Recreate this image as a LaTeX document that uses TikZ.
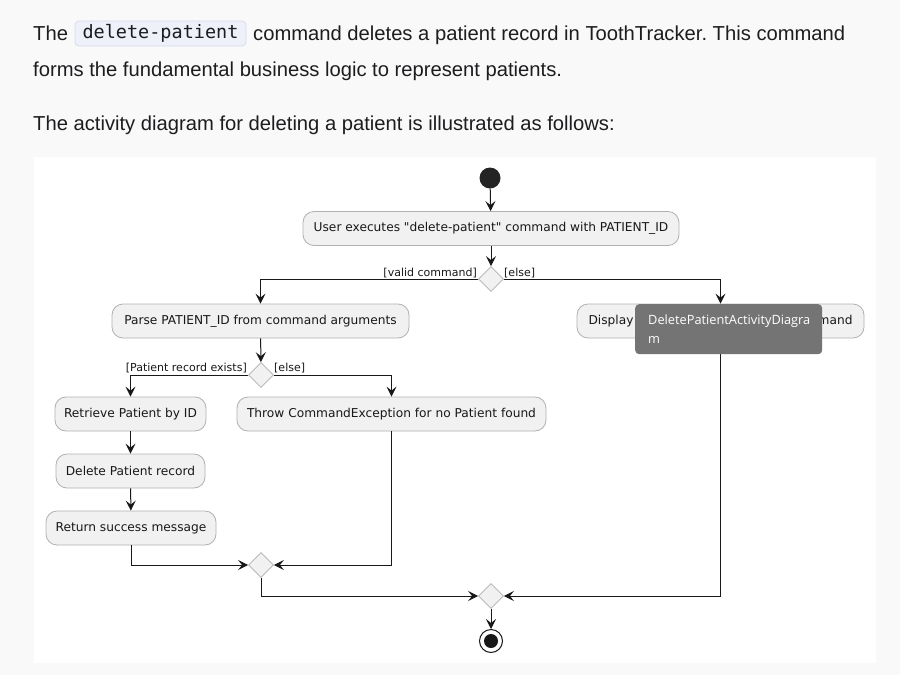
\documentclass[tikz,border=0pt]{standalone}
\usepackage{fontspec}
\setmainfont{Liberation Sans}
\newfontfamily\umlfont{DejaVu Sans}
\newfontfamily\tipfont{Open Sans}
\setmonofont{DejaVu Sans Mono}
\usetikzlibrary{arrows.meta,shapes.geometric}
\definecolor{pagebg}{HTML}{F9F9FA}
\definecolor{panelbg}{HTML}{FFFFFF}
\definecolor{boxfill}{HTML}{F1F1F1}
\definecolor{boxline}{HTML}{B0B0B0}
\definecolor{linec}{HTML}{181818}
\definecolor{codebg}{HTML}{EEF0FA}
\definecolor{codeline}{HTML}{D8DBEC}
\definecolor{tipgray}{HTML}{747474}
\definecolor{txt}{HTML}{1D1D1F}
\frenchspacing
\begin{document}
\begin{tikzpicture}[x=1pt,y=-1pt,
  act/.style={draw=boxline, fill=boxfill, rounded corners=11pt, line width=0.8pt,
    font=\umlfont\fontsize{12.2}{14}\selectfont, text=linec, minimum height=34pt, inner sep=0pt},
  dia/.style={diamond, draw=boxline, fill=boxfill, line width=0.8pt, minimum size=25pt, inner sep=0pt},
  lbl/.style={font=\umlfont\fontsize{11}{12}\selectfont, text=linec, inner sep=0pt},
  arr/.style={draw=linec, line width=1pt, -{Stealth[length=10pt,width=10pt,inset=4pt]}},
  head/.style={font=\fontsize{20.2}{22}\selectfont, text=txt, inner sep=0pt, anchor=base west}]
\fill[pagebg] (0,0) rectangle (900,675);
\useasboundingbox (0,0) rectangle (900,675);
\fill[panelbg] (34,157) rectangle (876,663);

% header text
\node[head] (t1a) at (33,40) {The};
\node[fill=codebg, draw=codeline, line width=0.8pt, rounded corners=4pt, minimum width=171pt, minimum height=25pt, inner sep=0pt, font=\ttfamily\fontsize{18.5}{20}\selectfont, text=txt] (code) at (160.5,33.5) {delete-patient};
\node[head] (t1b) at (253,40) {command deletes a patient record in ToothTracker. This command};
\node[head] (t2) at (33,76) {forms the fundamental business logic to represent patients.};
\node[head] (t3) at (33,130) {The activity diagram for deleting a patient is illustrated as follows:};

% diagram nodes
\node[circle, fill=linec!95, minimum size=21pt, inner sep=0pt] (start) at (490,178) {};
\node[act, minimum width=376pt] (user) at (491,228.5) {User executes "delete-patient" command with PATIENT\_ID};
\node[dia] (d1) at (491,279) {};
\node[lbl, anchor=base east] (lv) at (477,276) {[valid command]};
\node[lbl, anchor=base west] (le1) at (504,276) {[else]};
\node[act, minimum width=297pt] (parse) at (260.5,321) {Parse PATIENT\_ID from command arguments};
\node[act, minimum width=287pt] (disp) at (720.5,321) {\makebox[264pt]{Display\hfill mand}};
\node[dia] (d2) at (261,375) {};
\node[lbl, anchor=base east] (lp) at (247,371) {[Patient record exists]};
\node[lbl, anchor=base west] (le2) at (274,371) {[else]};
\node[act, minimum width=151pt] (retr) at (130.5,414) {Retrieve Patient by ID};
\node[act, minimum width=309pt] (throw) at (391.5,414) {Throw CommandException for no Patient found};
\node[act, minimum width=149pt] (del) at (130.5,471) {Delete Patient record};
\node[act, minimum width=170pt] (ret) at (131,528) {Return success message};
\node[dia] (d3) at (261,565) {};
\node[dia] (d4) at (491,596) {};
\node[circle, draw=linec, line width=1pt, fill=white, minimum size=23pt, inner sep=0pt] (fin) at (491,641) {};
\node[circle, fill=linec, minimum size=14pt, inner sep=0pt] (fininner) at (fin.center) {};

% connectors
\draw[arr] (start) -- (user);
\draw[arr] (user) -- (d1);
\draw[arr] (d1.west) -| (parse.north);
\draw[arr] (d1.east) -| (disp.north);
\draw[arr] (parse) -- (d2);
\draw[arr] (d2.west) -| (retr.north);
\draw[arr] (d2.east) -| (throw.north);
\draw[arr] (retr) -- (del);
\draw[arr] (del) -- (ret);
\draw[arr] (ret.south) |- (d3.west);
\draw[arr] (throw.south) |- (d3.east);
\draw[arr] (d3.south) |- (d4.west);
\draw[arr] (disp.south) |- (d4.east);
\draw[arr] (d4) -- (fin);

% tooltip overlay
\node[fill=tipgray, rounded corners=4pt, minimum width=187pt, minimum height=50pt, inner sep=0pt, anchor=north west] (tip) at (635,304) {};
\node[anchor=base west, text=white, inner sep=0pt, font=\tipfont\fontsize{12.8}{15}\selectfont] (tip1) at (648,324) {DeletePatientActivityDiagra};
\node[anchor=base west, text=white, inner sep=0pt, font=\tipfont\fontsize{12.8}{15}\selectfont] (tip2) at (648,343) {m};
\end{tikzpicture}
\end{document}
